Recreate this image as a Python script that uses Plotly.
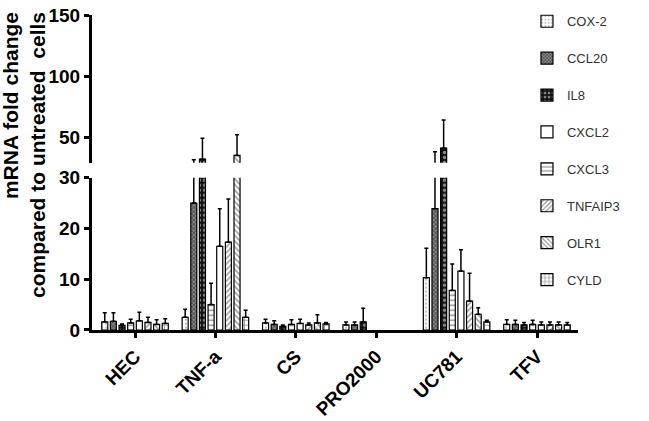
import plotly.graph_objects as go

groups = ["HEC", "TNF-a", "CS", "PRO2000", "UC781", "TFV"]

# series in bar-position order
series_names = ["COX-2", "CCL20", "IL8", "CXCL3", "CXCL2", "TNFAIP3", "OLR1", "CYLD"]
legend_rank = [1, 2, 3, 5, 4, 6, 7, 8]

cox2 = [1.6, 2.5, 1.4, 1.0, 10.3, 1.1]
cox2_err = [1.8, 1.6, 0.7, 0.6, 5.8, 0.9]
ccl20 = [1.7, 25.0, 1.1, 1.0, 23.9, 1.1]
ccl20_err = [1.7, 6.5, 0.7, 0.6, 14.0, 0.8]
il8 = [0.9, 32.0, 0.7, 1.6, 41.0, 1.0]
il8_err = [0.3, 17.0, 0.3, 2.7, 23.0, 0.5]
cxcl3 = [1.4, 5.0, 1.1, None, 7.8, 1.1]
cxcl3_err = [0.7, 4.2, 0.9, None, 5.2, 0.8]
cxcl2 = [1.8, 16.5, 1.3, None, 11.6, 1.0]
cxcl2_err = [1.7, 7.4, 0.8, None, 4.2, 0.6]
tnfaip3 = [1.5, 17.3, 1.0, None, 5.7, 1.0]
tnfaip3_err = [1.0, 8.5, 0.4, None, 5.5, 0.6]
olr1 = [1.1, 35.0, 1.4, None, 3.1, 1.0]
olr1_err = [0.9, 17.0, 1.6, None, 1.3, 0.6]
cyld = [1.3, 2.5, 1.2, None, 1.6, 1.0]
cyld_err = [0.9, 1.4, 0.3, None, 0.3, 0.5]

values = [cox2, ccl20, il8, cxcl3, cxcl2, tnfaip3, olr1, cyld]
errors = [cox2_err, ccl20_err, il8_err, cxcl3_err, cxcl2_err, tnfaip3_err, olr1_err, cyld_err]

patterns = [
    dict(shape=".", size=4, solidity=0.25, fgcolor="#777", bgcolor="white"),
    dict(shape="x", size=3, solidity=0.5, fgcolor="#111", bgcolor="#888"),
    dict(shape=".", size=5, solidity=0.35, fgcolor="white", bgcolor="#111"),
    dict(shape="-", size=5, solidity=0.3, fgcolor="#222", bgcolor="white"),
    dict(shape="", fgcolor="#222", bgcolor="white"),
    dict(shape="/", size=4, solidity=0.35, fgcolor="#222", bgcolor="white"),
    dict(shape="\\", size=4, solidity=0.35, fgcolor="#222", bgcolor="white"),
    dict(shape="+", size=5, solidity=0.3, fgcolor="#222", bgcolor="white"),
]

fig = go.Figure()
for yax in ["y", "y2"]:
    for i, name in enumerate(series_names):
        errs = [e if e is not None else 0 for e in errors[i]]
        fig.add_trace(go.Bar(
            x=groups, y=values[i], name=name,
            xaxis="x", yaxis=yax,
            showlegend=(yax == "y"),
            legendgroup=name, legendrank=legend_rank[i],
            marker=dict(color="white", line=dict(color="black", width=1.2),
                        pattern=patterns[i]),
            error_y=dict(type="data", array=errs, arrayminus=[0] * len(errs),
                         symmetric=False, color="black", thickness=1.5, width=2),
        ))

font_family = "Liberation Sans, Arial, sans-serif"
axis_common = dict(showline=True, linecolor="black", linewidth=3,
                   ticks="outside", ticklen=5, tickwidth=3, tickcolor="black",
                   showgrid=False, zeroline=False, automargin=False,
                   tickfont=dict(family=font_family, size=19, color="black", weight="bold"))

fig.update_layout(
    width=649, height=421,
    margin=dict(l=92, r=71, t=15, b=91, autoexpand=False),
    paper_bgcolor="white", plot_bgcolor="white",
    barmode="group", bargap=0.14, bargroupgap=0.3,
    xaxis=dict(anchor="y", range=[-0.535, 5.51], tickangle=-45, **axis_common),
    yaxis=dict(domain=[0, 0.4835], range=[0, 30], tickvals=[0, 10, 20, 30], anchor="x",
               **axis_common),
    yaxis2=dict(domain=[0.531, 1], range=[29, 150], tickvals=[50, 100, 150], anchor="x",
                **axis_common),
    legend=dict(x=0.895, xanchor="left", yref="container", y=0.985, yanchor="top",
                font=dict(family=font_family, size=13, color="#333"),
                tracegroupgap=17, bgcolor="rgba(0,0,0,0)", maxheight=1.0),
    annotations=[dict(
        text="mRNA fold change<br>compared to untreated  cells",
        xref="paper", yref="paper", x=-0.140, y=1.016,
        xanchor="center", yanchor="top", textangle=-90, align="right",
        showarrow=False,
        font=dict(family=font_family, size=21, color="black", weight="bold"),
    )],
)

fig.write_html("out.html")
